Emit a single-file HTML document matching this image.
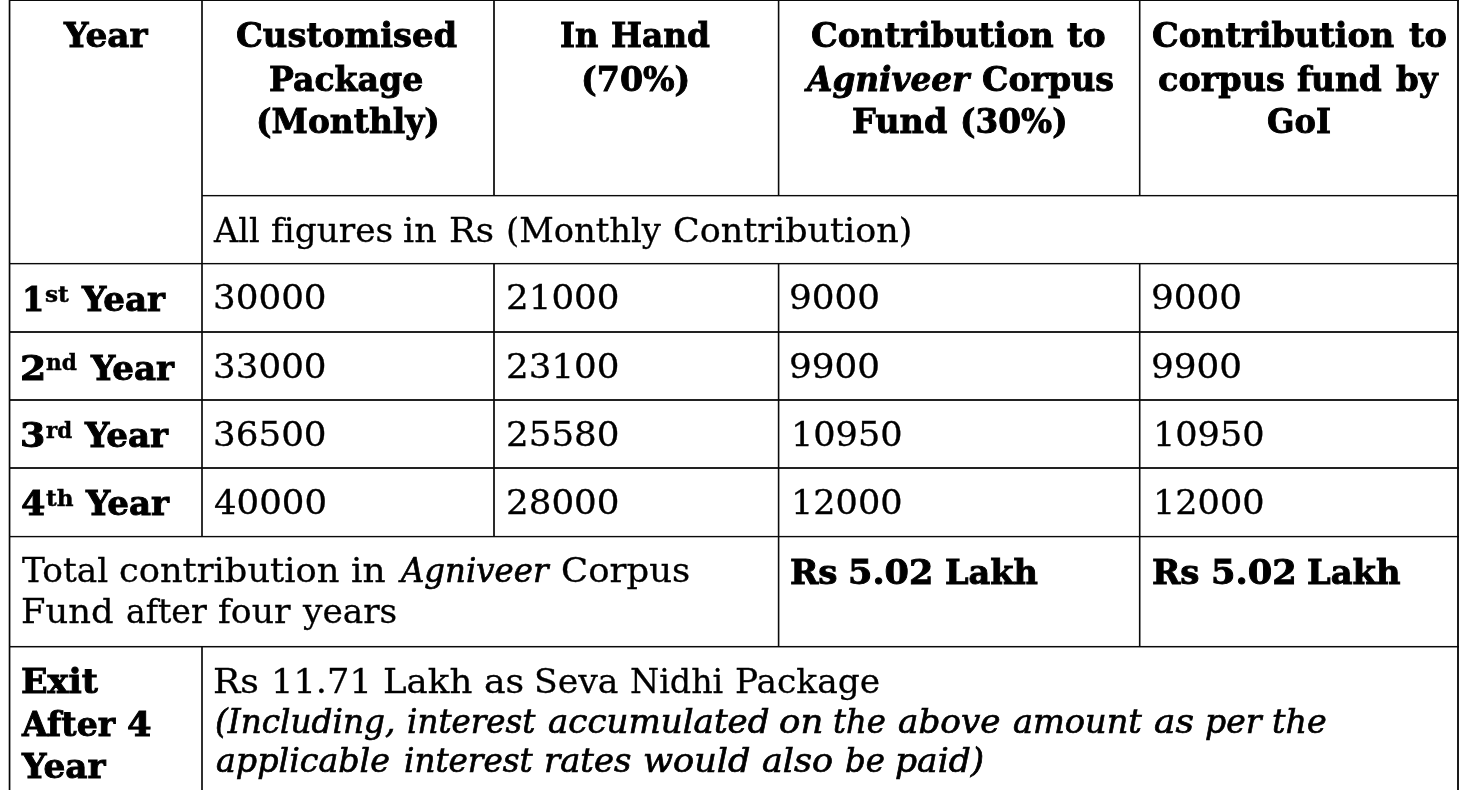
<!DOCTYPE html>
<html lang="en"><head><meta charset="utf-8"><title>Agniveer Customised Package</title>
<style>

html,body{margin:0;padding:0;background:#fff;}
body{width:1470px;height:790px;overflow:hidden;position:relative;font-family:"DejaVu Serif", "Liberation Serif", serif;color:#000;}
.t{position:absolute;white-space:pre;font-variant-ligatures:none;font-kerning:normal;line-height:50px;height:50px;transform-origin:0 0;display:block;}

.b{font-weight:bold;font-size:33px;-webkit-text-stroke:0.9px #000;}
.r{font-size:34px;-webkit-text-stroke:0.3px #000;}
.i{font-style:italic;font-size:34px;-webkit-text-stroke:0.7px #000;}
.bi{font-weight:bold;font-style:italic;font-size:33px;-webkit-text-stroke:0.9px #000;}
.sb{font-weight:bold;font-size:23px;-webkit-text-stroke:0.5px #000;}
svg{position:absolute;left:0;top:0}
</style></head><body>
<svg width="1470" height="790" viewBox="0 0 1470 790">
<rect x="8.70" y="0" width="1.7" height="790.00" fill="#050505"/>
<rect x="201.00" y="0" width="2" height="536.60" fill="#303030"/>
<rect x="201.00" y="646.7" width="2" height="143.30" fill="#303030"/>
<rect x="493.00" y="0" width="2" height="195.60" fill="#2a2a2a"/>
<rect x="493.00" y="263.6" width="2" height="273.00" fill="#2a2a2a"/>
<rect x="777.80" y="0" width="1.6" height="195.60" fill="#0a0a0a"/>
<rect x="777.80" y="263.6" width="1.6" height="383.10" fill="#0a0a0a"/>
<rect x="1138.90" y="0" width="1.6" height="195.60" fill="#0a0a0a"/>
<rect x="1138.90" y="263.6" width="1.6" height="383.10" fill="#0a0a0a"/>
<rect x="1457.00" y="0" width="2" height="790.00" fill="#1a1a1a"/>
<rect x="9" y="0.00" width="1450" height="1.00" fill="#0a0a0a"/>
<rect x="202" y="194.95" width="1256" height="1.40" fill="#0a0a0a"/>
<rect x="9" y="262.95" width="1450" height="1.40" fill="#0a0a0a"/>
<rect x="9" y="331.10" width="1450" height="1.80" fill="#0a0a0a"/>
<rect x="9" y="399.10" width="1450" height="1.80" fill="#0a0a0a"/>
<rect x="9" y="467.10" width="1450" height="1.80" fill="#0a0a0a"/>
<rect x="9" y="535.90" width="1450" height="1.40" fill="#0a0a0a"/>
<rect x="9" y="645.95" width="1450" height="1.50" fill="#0a0a0a"/>
</svg>
<span class="t b" style="left:63.64px;top:11.15px;transform:scaleX(1.0394)">Year</span>
<span class="t b" style="left:235.72px;top:11.15px;transform:scaleX(1.0231)">Customised</span>
<span class="t b" style="left:269.40px;top:54.60px;transform:scaleX(1.0033)">Package</span>
<span class="t b" style="left:255.51px;top:96.60px;transform:scaleX(0.9956)">(Monthly)</span>
<span class="t b" style="left:560.43px;top:11.15px;transform:scaleX(0.9743)">In</span>
<span class="t b" style="left:611.41px;top:11.15px;transform:scaleX(0.9935)">Hand</span>
<span class="t b" style="left:581.17px;top:54.60px;transform:scaleX(1.0078)">(70%)</span>
<span class="t b" style="left:810.53px;top:11.15px;transform:scaleX(1.0188)">Contribution</span>
<span class="t b" style="left:1067.00px;top:11.15px;transform:scaleX(1.0387)">to</span>
<span class="t bi" style="left:807.41px;top:54.60px;transform:scaleX(0.9913)">Agniveer</span>
<span class="t b" style="left:981.64px;top:54.60px;transform:scaleX(1.0054)">Corpus</span>
<span class="t b" style="left:851.98px;top:96.60px;transform:scaleX(1.0151)">Fund</span>
<span class="t b" style="left:959.81px;top:96.60px;transform:scaleX(0.9923)">(30%)</span>
<span class="t b" style="left:1151.73px;top:11.15px;transform:scaleX(1.0167)">Contribution</span>
<span class="t b" style="left:1408.70px;top:11.15px;transform:scaleX(1.0194)">to</span>
<span class="t b" style="left:1157.91px;top:54.60px;transform:scaleX(1.0143)">corpus</span>
<span class="t b" style="left:1297.13px;top:54.60px;transform:scaleX(0.9937)">fund</span>
<span class="t b" style="left:1396.00px;top:54.60px;transform:scaleX(0.9860)">by</span>
<span class="t b" style="left:1267.37px;top:96.60px;transform:scaleX(0.9759)">GoI</span>
<span class="t r" style="left:214.04px;top:204.75px;transform:scaleX(0.9861)">All</span>
<span class="t r" style="left:270.59px;top:204.75px;transform:scaleX(1.0095)">figures</span>
<span class="t r" style="left:402.87px;top:204.75px;transform:scaleX(1.0258)">in</span>
<span class="t r" style="left:448.68px;top:204.75px;transform:scaleX(1.0468)">Rs</span>
<span class="t r" style="left:505.51px;top:204.75px;transform:scaleX(0.9920)">(Monthly</span>
<span class="t r" style="left:673.14px;top:204.75px;transform:scaleX(1.0276)">Contribution)</span>
<span class="t b" style="left:22.22px;top:274.75px;transform:scaleX(0.9708)">1</span>
<span class="t b" style="left:81.73px;top:274.75px;transform:scaleX(1.0321)">Year</span>
<span class="t sb" style="left:45.09px;top:268.65px;transform:scaleX(1.0088)">st</span>
<span class="t b" style="left:20.00px;top:343.85px;transform:scaleX(1.1447)">2</span>
<span class="t b" style="left:90.73px;top:343.85px;transform:scaleX(1.0321)">Year</span>
<span class="t sb" style="left:46.10px;top:336.65px;transform:scaleX(0.9394)">nd</span>
<span class="t b" style="left:19.97px;top:410.75px;transform:scaleX(1.1033)">3</span>
<span class="t b" style="left:85.03px;top:410.75px;transform:scaleX(1.0321)">Year</span>
<span class="t sb" style="left:46.10px;top:404.65px;transform:scaleX(0.9250)">rd</span>
<span class="t b" style="left:20.79px;top:478.75px;transform:scaleX(1.0617)">4</span>
<span class="t b" style="left:85.83px;top:478.75px;transform:scaleX(1.0321)">Year</span>
<span class="t sb" style="left:45.90px;top:472.65px;transform:scaleX(1.0037)">th</span>
<span class="t r" style="left:213.40px;top:272.40px;transform:scaleX(1.0500)">30000</span>
<span class="t r" style="left:505.50px;top:272.40px;transform:scaleX(1.0490)">21000</span>
<span class="t r" style="left:789.40px;top:272.40px;transform:scaleX(1.0518)">9000</span>
<span class="t r" style="left:1151.30px;top:272.40px;transform:scaleX(1.0518)">9000</span>
<span class="t r" style="left:213.40px;top:341.40px;transform:scaleX(1.0500)">33000</span>
<span class="t r" style="left:505.50px;top:341.40px;transform:scaleX(1.0490)">23100</span>
<span class="t r" style="left:789.40px;top:341.40px;transform:scaleX(1.0518)">9900</span>
<span class="t r" style="left:1151.30px;top:341.40px;transform:scaleX(1.0518)">9900</span>
<span class="t r" style="left:213.40px;top:409.40px;transform:scaleX(1.0500)">36500</span>
<span class="t r" style="left:505.50px;top:409.40px;transform:scaleX(1.0490)">25580</span>
<span class="t r" style="left:791.37px;top:409.40px;transform:scaleX(1.0313)">10950</span>
<span class="t r" style="left:1153.27px;top:409.40px;transform:scaleX(1.0313)">10950</span>
<span class="t r" style="left:213.96px;top:477.40px;transform:scaleX(1.0447)">40000</span>
<span class="t r" style="left:505.50px;top:477.40px;transform:scaleX(1.0490)">28000</span>
<span class="t r" style="left:791.37px;top:477.40px;transform:scaleX(1.0313)">12000</span>
<span class="t r" style="left:1153.27px;top:477.40px;transform:scaleX(1.0313)">12000</span>
<span class="t r" style="left:22.30px;top:544.90px;transform:scaleX(1.0094)">Total</span>
<span class="t r" style="left:119.22px;top:544.90px;transform:scaleX(1.0358)">contribution</span>
<span class="t r" style="left:350.74px;top:544.90px;transform:scaleX(1.0581)">in</span>
<span class="t i" style="left:401.16px;top:544.90px;transform:scaleX(0.9519)">Agniveer</span>
<span class="t r" style="left:560.62px;top:544.90px;transform:scaleX(1.0433)">Corpus</span>
<span class="t r" style="left:21.10px;top:586.00px;transform:scaleX(1.0382)">Fund</span>
<span class="t r" style="left:126.20px;top:586.00px;transform:scaleX(0.9754)">after</span>
<span class="t r" style="left:218.48px;top:586.00px;transform:scaleX(1.0186)">four</span>
<span class="t r" style="left:303.12px;top:586.00px;transform:scaleX(1.0096)">years</span>
<span class="t b" style="left:789.77px;top:547.70px;transform:scaleX(1.0338)">Rs</span>
<span class="t b" style="left:848.18px;top:547.70px;transform:scaleX(1.0618)">5.02</span>
<span class="t b" style="left:945.28px;top:547.70px;transform:scaleX(1.0169)">Lakh</span>
<span class="t b" style="left:1151.67px;top:547.70px;transform:scaleX(1.0315)">Rs</span>
<span class="t b" style="left:1210.67px;top:547.70px;transform:scaleX(1.0658)">5.02</span>
<span class="t b" style="left:1307.08px;top:547.70px;transform:scaleX(1.0213)">Lakh</span>
<span class="t b" style="left:20.74px;top:657.10px;transform:scaleX(1.0583)">Exit</span>
<span class="t b" style="left:21.60px;top:700.20px;transform:scaleX(1.0032)">After</span>
<span class="t b" style="left:126.83px;top:700.20px;transform:scaleX(1.0688)">4</span>
<span class="t b" style="left:21.64px;top:742.30px;transform:scaleX(1.0382)">Year</span>
<span class="t r" style="left:213.05px;top:655.75px;transform:scaleX(1.0669)">Rs</span>
<span class="t r" style="left:270.65px;top:655.75px;transform:scaleX(1.0371)">11.71</span>
<span class="t r" style="left:382.59px;top:655.75px;transform:scaleX(1.0461)">Lakh</span>
<span class="t r" style="left:483.76px;top:655.75px;transform:scaleX(1.0668)">as</span>
<span class="t r" style="left:534.10px;top:655.75px;transform:scaleX(1.0183)">Seva</span>
<span class="t r" style="left:629.82px;top:655.75px;transform:scaleX(0.9798)">Nidhi</span>
<span class="t r" style="left:735.24px;top:655.75px;transform:scaleX(1.0117)">Package</span>
<span class="t i" style="left:215.40px;top:695.65px;transform:scaleX(0.9620)">(Including,</span>
<span class="t i" style="left:406.84px;top:695.65px;transform:scaleX(0.9575)">interest</span>
<span class="t i" style="left:548.29px;top:695.65px;transform:scaleX(1.0023)">accumulated</span>
<span class="t i" style="left:779.26px;top:695.65px;transform:scaleX(1.0448)">on</span>
<span class="t i" style="left:833.45px;top:695.65px;transform:scaleX(0.9492)">the</span>
<span class="t i" style="left:898.29px;top:695.65px;transform:scaleX(1.0071)">above</span>
<span class="t i" style="left:1012.70px;top:695.65px;transform:scaleX(0.9878)">amount</span>
<span class="t i" style="left:1153.95px;top:695.65px;transform:scaleX(1.0555)">as</span>
<span class="t i" style="left:1204.53px;top:695.65px;transform:scaleX(0.9708)">per</span>
<span class="t i" style="left:1272.40px;top:695.65px;transform:scaleX(0.9814)">the</span>
<span class="t i" style="left:216.41px;top:734.85px;transform:scaleX(0.9795)">applicable</span>
<span class="t i" style="left:403.64px;top:734.85px;transform:scaleX(0.9597)">interest</span>
<span class="t i" style="left:543.91px;top:734.85px;transform:scaleX(0.9941)">rates</span>
<span class="t i" style="left:642.92px;top:734.85px;transform:scaleX(1.0318)">would</span>
<span class="t i" style="left:761.87px;top:734.85px;transform:scaleX(1.0269)">also</span>
<span class="t i" style="left:844.95px;top:734.85px;transform:scaleX(0.9525)">be</span>
<span class="t i" style="left:894.98px;top:734.85px;transform:scaleX(1.0152)">paid)</span>
</body></html>
